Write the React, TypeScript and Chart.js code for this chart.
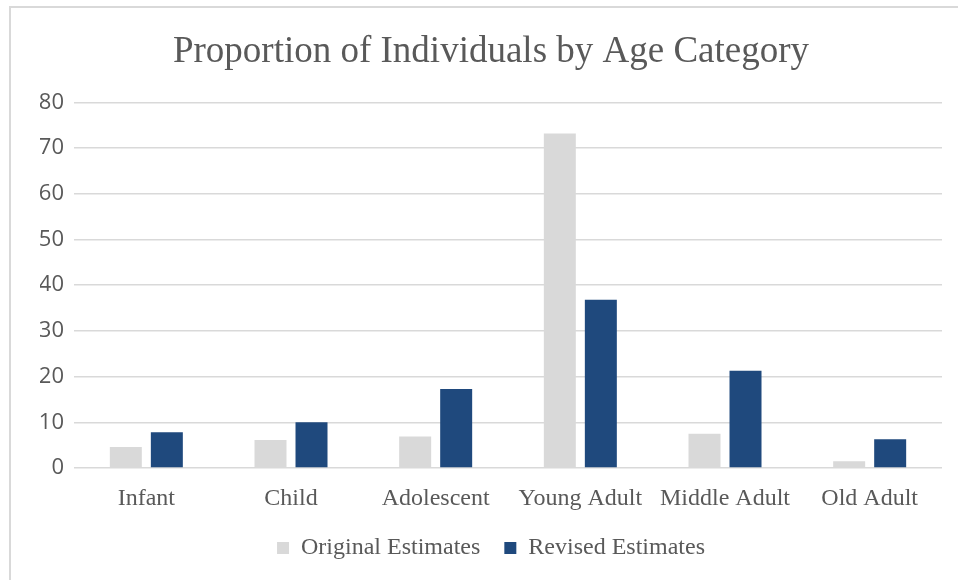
import React, { useEffect, useRef } from "react";
import { Chart, registerables } from "chart.js";

Chart.register(...registerables);

const categories = ["Infant", "Child", "Adolescent", "Young Adult", "Middle Adult", "Old Adult"];
const originalEstimates = [4.6, 6.1, 6.9, 73.2, 7.5, 1.5];
const revisedEstimates = [7.8, 10.0, 17.3, 36.8, 21.3, 6.3];
const seriesNames = ["Original Estimates", "Revised Estimates"];
const yMin = 0;
const yMax = 80;
const yStep = 10;

const WIDTH = 958;
const HEIGHT = 580;
const TEXT = "#595959";
const GRID = "#d9d9d9";
const SERIF = "'Liberation Serif', 'Times New Roman', serif";
const SANS = "'Open Sans', 'Noto Sans', sans-serif";

export default function App() {
  const canvasRef = useRef<HTMLCanvasElement | null>(null);

  useEffect(() => {
    document.body.style.margin = "0";
    document.body.style.overflow = "hidden";
    const canvas = canvasRef.current;
    if (!canvas) return;

    const chart = new Chart(canvas, {
      type: "bar",
      data: {
        labels: categories,
        datasets: [
          {
            label: seriesNames[0],
            data: originalEstimates,
            backgroundColor: "#d9d9d9",
            borderWidth: 0,
            categoryPercentage: 0.567,
            barPercentage: 0.78,
          },
          {
            label: seriesNames[1],
            data: revisedEstimates,
            backgroundColor: "#1f497d",
            borderWidth: 0,
            categoryPercentage: 0.567,
            barPercentage: 0.78,
          },
        ],
      },
      options: {
        responsive: false,
        animation: false,
        layout: { padding: { left: 40, right: 16, top: 30, bottom: 10 } },
        plugins: {
          title: {
            display: true,
            text: "Proportion of Individuals by Age Category",
            color: TEXT,
            font: { family: SERIF, size: 37, weight: "normal" },
            padding: { top: 0, bottom: 28 },
          },
          legend: {
            position: "bottom",
            labels: {
              color: TEXT,
              font: { family: SERIF, size: 24 },
              boxWidth: 12,
              boxHeight: 12,
              padding: 24,
            },
          },
          tooltip: { enabled: false },
        },
        scales: {
          x: {
            afterFit: (scale: any) => {
              scale.height = 44;
            },
            grid: { display: false, drawTicks: false },
            border: { display: false },
            ticks: {
              color: TEXT,
              font: { family: SERIF, size: 24 },
              padding: 16,
              maxRotation: 0,
            },
          },
          y: {
            min: yMin,
            max: yMax,
            afterFit: (scale: any) => {
              scale.width = 34;
            },
            grid: { color: GRID, lineWidth: 1.5, drawTicks: false },
            border: { display: false },
            ticks: {
              stepSize: yStep,
              color: TEXT,
              font: { family: SANS, size: 22 },
              padding: 10,
            },
          },
        },
      },
    });

    return () => chart.destroy();
  }, []);

  return (
    <div style={{ position: "relative", width: WIDTH, height: HEIGHT, background: "#fff", overflow: "hidden" }}>
      <canvas ref={canvasRef} width={WIDTH} height={HEIGHT} style={{ display: "block" }} />
      <div
        style={{
          position: "absolute",
          left: 9,
          top: 6,
          width: WIDTH,
          height: HEIGHT,
          borderLeft: `2px solid ${GRID}`,
          borderTop: `2px solid ${GRID}`,
          pointerEvents: "none",
        }}
      />
    </div>
  );
}
